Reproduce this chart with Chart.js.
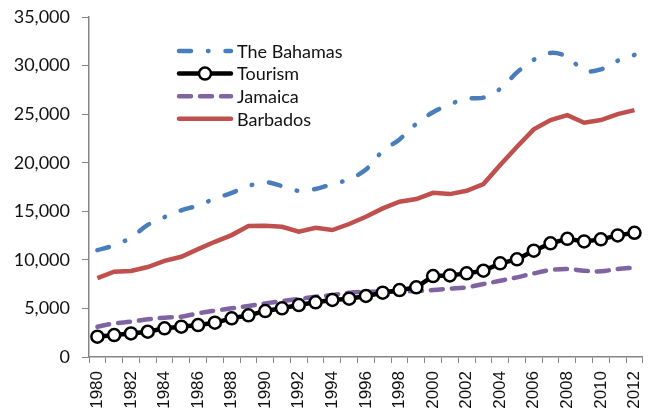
<!DOCTYPE html>
<html>
<head>
<meta charset="utf-8">
<script src="https://cdn.jsdelivr.net/npm/chart.js@4/dist/chart.umd.min.js"></script>
<style>
html,body{margin:0;padding:0;background:#fff;}
#wrap{position:relative;width:663px;height:411px;}
</style>
</head>
<body>
<div id="wrap"><canvas id="c" width="663" height="411"></canvas></div>
<script>
const years = [];
for (let y = 1980; y <= 2012; y++) years.push(String(y));

const seriesNames = ["The Bahamas", "Tourism", "Jamaica", "Barbados"];

const bahamas = [11000, 11500, 12300, 13600, 14400, 15100, 15600, 16300, 16900, 17600,
  18000, 17600, 17100, 17300, 17800, 18300, 19300, 21200, 22400, 24000,
  25200, 26000, 26600, 26700, 27600, 29300, 30600, 31300, 30900, 29500,
  29600, 30500, 31100];

const tourism = [2090, 2260, 2430, 2600, 2950, 3120, 3290, 3530, 3980, 4290,
  4730, 5010, 5350, 5630, 5870, 6000, 6280, 6620, 6890, 7170,
  8330, 8400, 8610, 8880, 9640, 10050, 10940, 11700, 12170, 11900,
  12110, 12520, 12790];

const jamaica = [3120, 3460, 3630, 3880, 4050, 4150, 4500, 4770, 5010, 5250,
  5520, 5760, 5970, 6200, 6380, 6620, 6720, 6720, 6720, 6790,
  6890, 7030, 7170, 7510, 7850, 8200, 8610, 8950, 9060, 8880,
  8820, 9060, 9190];

const barbados = [8130, 8780, 8850, 9260, 9900, 10320, 11100, 11860, 12550, 13480,
  13510, 13410, 12900, 13300, 13070, 13690, 14440, 15300, 15990, 16260,
  16900, 16770, 17110, 17800, 19760, 21640, 23430, 24390, 24900, 24110,
  24390, 25000, 25420];

const yTicks = [0, 5000, 10000, 15000, 20000, 25000, 30000, 35000];

const FONT = "Lato";
const XFONT = "Liberation Sans";
const BLUE = "#4A7EBB", PURPLE = "#8064A2", RED = "#C0504D";
const dashBahamas = [12, 17, 0.5, 17];
const dashJamaica = [12, 9];

const legendPlugin = {
  id: 'inLegend',
  afterDraw(chart) {
    const ctx = chart.ctx;
    const x0 = 179, x1 = 231, xt = 237, y0 = 51, dy = 22.6;
    chart.data.datasets.forEach((ds, i) => {
      const y = y0 + i * dy;
      ctx.save();
      ctx.strokeStyle = ds.borderColor;
      ctx.lineWidth = ds.borderWidth;
      ctx.lineCap = 'round';
      ctx.setLineDash(ds.borderDash || []);
      ctx.beginPath();
      ctx.moveTo(x0, y);
      ctx.lineTo(x1, y);
      ctx.stroke();
      ctx.setLineDash([]);
      if (ds.pointRadius > 0) {
        ctx.beginPath();
        ctx.arc((x0 + x1) / 2, y, ds.pointRadius, 0, Math.PI * 2);
        ctx.fillStyle = ds.pointBackgroundColor;
        ctx.fill();
        ctx.lineWidth = ds.pointBorderWidth;
        ctx.strokeStyle = ds.pointBorderColor;
        ctx.stroke();
      }
      ctx.fillStyle = '#111';
      ctx.font = '18px ' + FONT;
      ctx.textBaseline = 'middle';
      ctx.textAlign = 'left';
      ctx.fillText(ds.label, xt, y + 1);
      ctx.restore();
    });
  }
};

new Chart(document.getElementById('c'), {
  type: 'line',
  data: {
    labels: years,
    datasets: [
      { label: seriesNames[0], data: bahamas, borderColor: BLUE, backgroundColor: BLUE,
        borderWidth: 4.5, borderDash: dashBahamas, borderCapStyle: 'round', pointRadius: 0, tension: 0.35 },
      { label: seriesNames[1], data: tourism, borderColor: '#000', backgroundColor: '#000',
        borderWidth: 4.5, pointRadius: 6, pointBackgroundColor: '#fff', pointBorderColor: '#000',
        pointBorderWidth: 2.5, tension: 0 },
      { label: seriesNames[2], data: jamaica, borderColor: PURPLE, backgroundColor: PURPLE,
        borderWidth: 4.5, borderDash: dashJamaica, borderCapStyle: 'round', pointRadius: 0, tension: 0.35 },
      { label: seriesNames[3], data: barbados, borderColor: RED, backgroundColor: RED,
        borderWidth: 4.5, pointRadius: 0, tension: 0 }
    ]
  },
  options: {
    responsive: false,
    animation: false,
    layout: { padding: { top: 17, right: 8, left: 0, bottom: 0 } },
    plugins: { legend: { display: false }, tooltip: { enabled: false } },
    scales: {
      x: {
        offset: true,
        grid: { display: true, drawOnChartArea: false, drawTicks: true, tickLength: 6, offset: true, color: '#868686', lineWidth: 1 },
        border: { display: true, color: '#868686', width: 1.5 },
        ticks: {
          autoSkip: false, maxRotation: 90, minRotation: 90, padding: 8, color: '#111',
          font: { family: XFONT, size: 17 },
          callback: function (v, i) { const l = years[i]; return (Number(l) % 2 === 0) ? l : ''; }
        },
        afterFit: s => { s.height = 54; }
      },
      y: {
        min: 0, max: 35000,
        afterBuildTicks: s => { s.ticks = yTicks.map(v => ({ value: v })); },
        grid: { display: true, drawOnChartArea: false, drawTicks: true, tickLength: 7, color: '#868686', lineWidth: 1 },
        border: { display: true, color: '#868686', width: 1.5 },
        ticks: {
          padding: 12, color: '#111', font: { family: FONT, size: 18, lineHeight: 0.4 },
          callback: v => v.toLocaleString('en-US')
        },
        afterFit: s => { s.width = 89; }
      }
    }
  },
  plugins: [legendPlugin]
});
</script>
</body>
</html>
